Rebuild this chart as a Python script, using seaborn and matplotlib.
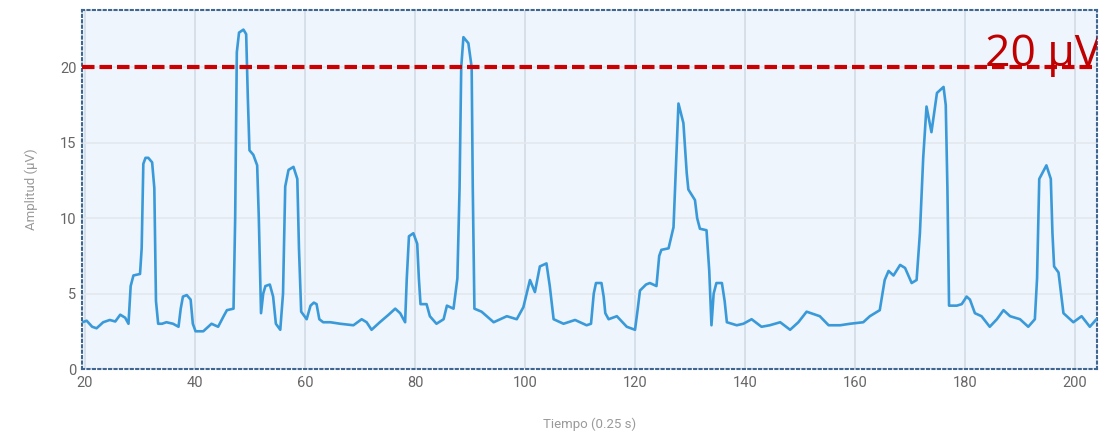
import numpy as np
import pandas as pd
import matplotlib
matplotlib.use("Agg")
import matplotlib.pyplot as plt
import seaborn as sns

# ---- data ----
tiempo = [19.5, 20.3, 21.3, 22.1, 23.3, 24.5, 25.5, 26.4, 27.3, 27.9, 28.3, 28.8, 30.0, 30.3, 30.6,
          31.0, 31.5, 32.2, 32.6, 32.9, 33.3, 34.0, 34.8, 36.0, 37.0, 37.4, 37.8, 38.5, 39.2, 39.6,
          40.1, 41.5, 43.0, 44.2, 45.2, 45.8, 47.0, 47.3, 47.6, 48.0, 48.8, 49.3, 49.6, 49.9, 50.6,
          51.3, 51.6, 52.0, 52.4, 52.8, 53.6, 54.2, 54.7, 55.5, 56.0, 56.4, 57.0, 57.9, 58.6, 58.9,
          59.3, 60.3, 61.0, 61.6, 62.1, 62.6, 63.3, 64.6, 66.4, 68.8, 70.3, 71.2, 72.1, 73.6, 75.2,
          76.4, 77.3, 78.2, 78.5, 78.9, 79.7, 80.4, 80.7, 81.0, 82.1, 82.7, 83.9, 85.2, 85.8, 87.0,
          87.7, 88.1, 88.4, 88.8, 89.7, 90.3, 90.5, 90.8, 92.1, 94.3, 96.7, 98.5, 99.7, 100.9, 101.8,
          102.7, 103.9, 104.5, 105.2, 107.0, 109.1, 111.2, 112.0, 112.5, 112.9, 113.9, 114.3, 114.6,
          115.2, 116.7, 118.5, 120.0, 120.5, 120.9, 122.0, 122.7, 123.9, 124.4, 124.8, 126.1, 127.0,
          127.5, 127.9, 128.8, 129.4, 129.7, 130.9, 131.3, 131.8, 133.0, 133.5, 133.9, 134.3, 134.8,
          135.8, 136.3, 136.7, 138.5, 139.7, 141.2, 143.0, 144.5, 146.4, 148.2, 149.7, 151.2, 153.6,
          155.2, 157.3, 159.1, 161.5, 162.7, 164.5, 165.4, 166.1, 167.0, 168.2, 169.1, 170.3, 171.2,
          171.8, 172.4, 173.0, 173.9, 174.9, 176.1, 176.5, 176.8, 177.1, 178.5, 179.4, 180.3, 180.9,
          181.8, 183.0, 184.5, 185.8, 187.0, 188.2, 190.0, 191.5, 192.7, 193.1, 193.5, 194.8, 195.6,
          195.9, 196.2, 197.0, 197.9, 199.7, 201.2, 202.7, 203.9]
amplitud = [3.1, 3.2, 2.8, 2.7, 3.1, 3.25, 3.15, 3.6, 3.4, 3.0, 5.5, 6.2, 6.3, 8.0, 13.6,
            14.0, 14.0, 13.7, 12.0, 4.5, 3.0, 3.0, 3.1, 3.0, 2.8, 4.0, 4.8, 4.9, 4.6, 3.0,
            2.5, 2.5, 3.0, 2.8, 3.5, 3.9, 4.0, 10.0, 21.0, 22.3, 22.5, 22.2, 18.0, 14.5, 14.2,
            13.5, 10.0, 3.7, 5.0, 5.5, 5.6, 4.8, 3.0, 2.6, 5.0, 12.1, 13.2, 13.4, 12.6, 8.0,
            3.8, 3.3, 4.2, 4.4, 4.3, 3.3, 3.1, 3.1, 3.0, 2.9, 3.3, 3.1, 2.6, 3.1, 3.6,
            4.0, 3.7, 3.1, 6.0, 8.8, 9.0, 8.3, 6.0, 4.3, 4.3, 3.5, 3.0, 3.3, 4.2, 4.0,
            6.0, 12.0, 20.0, 22.0, 21.6, 20.0, 12.0, 4.0, 3.8, 3.1, 3.5, 3.3, 4.1, 5.9, 5.1,
            6.8, 7.0, 5.5, 3.3, 3.0, 3.25, 2.9, 3.0, 5.0, 5.7, 5.7, 4.8, 3.7,
            3.3, 3.5, 2.8, 2.6, 4.0, 5.2, 5.6, 5.7, 5.5, 7.5, 7.9, 8.0, 9.4,
            14.0, 17.6, 16.3, 13.0, 11.9, 11.2, 10.0, 9.3, 9.2, 6.5, 2.9, 5.0, 5.7,
            5.7, 4.5, 3.1, 2.9, 3.0, 3.3, 2.8, 2.9, 3.1, 2.6, 3.1, 3.8, 3.5,
            2.9, 2.9, 3.0, 3.1, 3.5, 3.9, 5.9, 6.5, 6.2, 6.9, 6.7, 5.7, 5.9,
            9.0, 14.0, 17.4, 15.7, 18.3, 18.7, 17.5, 12.0, 4.2, 4.2, 4.3, 4.8, 4.6,
            3.7, 3.5, 2.8, 3.3, 3.9, 3.5, 3.3, 2.8, 3.3, 6.0, 12.6, 13.5, 12.6,
            9.0, 6.8, 6.4, 3.7, 3.1, 3.5, 2.8, 3.3]
umbral = 20
umbral_label = "20 µV"
x_ticks = [20, 40, 60, 80, 100, 120, 140, 160, 180, 200]
y_ticks = [0, 5, 10, 15, 20]
x_label = "Tiempo (0.25 s)"
y_label = "Amplitud (µV)"

df = pd.DataFrame({"t": tiempo, "a": amplitud})

sns.set_theme(style="white")
plt.rcParams["font.family"] = ["Roboto", "DejaVu Sans"]

fig = plt.figure(figsize=(11.16, 4.36), dpi=100)
ax = fig.add_axes([82 / 1116, 1 - 369 / 436, (1097 - 82) / 1116, (369 - 10) / 436])
ax.set_facecolor("#eef5fc")

sns.lineplot(data=df, x="t", y="a", ax=ax, color="#3a9ad9", linewidth=1.9,
             estimator=None, sort=False, zorder=3)
ax.lines[-1].set_solid_joinstyle("round")
ax.lines[-1].set_solid_capstyle("round")

ax.axhline(umbral, color="#cc0000", linewidth=3.0, linestyle=(0, (3.0, 1.2)), zorder=4)
ax.text(183.6, umbral + 0.1, umbral_label, color="#c00000", fontsize=32,
        family=["Open Sans", "DejaVu Sans"], ha="left", va="baseline", zorder=5, clip_on=True)

ax.set_xlim(19.45, 204.0)
ax.set_ylim(0, 23.8)
ax.set_xticks(x_ticks)
ax.set_yticks(y_ticks)
ax.grid(True, axis="x", color="#d3dbe4", linewidth=1.2, zorder=0)
ax.grid(True, axis="y", color="#e3e8ee", linewidth=1.2, zorder=0)
ax.set_axisbelow(True)

ax.tick_params(axis="x", labelsize=10.5, labelcolor="#666666", length=0, pad=5)
ax.tick_params(axis="y", labelsize=10.5, labelcolor="#666666", length=0, pad=4)
ax.set_xlabel(x_label, fontsize=9.5, color="#9a9a9a", labelpad=20)
ax.set_ylabel(y_label, fontsize=9.5, color="#9a9a9a", labelpad=16)

for side in ["left", "right", "top", "bottom"]:
    sp = ax.spines[side]
    sp.set_visible(True)
    sp.set_color("#3e6690")
    sp.set_linewidth(1.5)
    sp.set_linestyle((0, (1.0, 1.6)))

fig.savefig("out.png", dpi=100, facecolor="white")
